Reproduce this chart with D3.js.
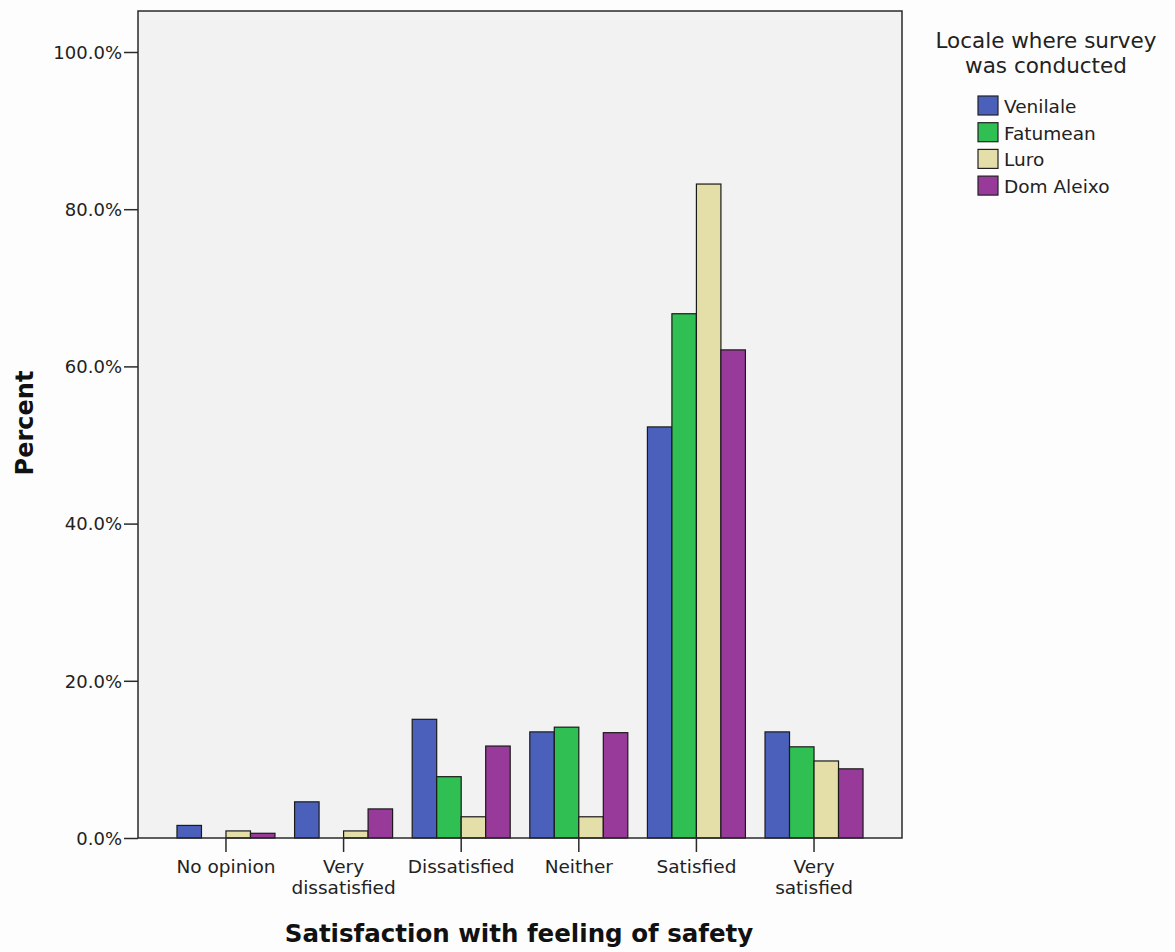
<!DOCTYPE html>
<html>
<head>
<meta charset="utf-8">
<script src="https://cdn.jsdelivr.net/npm/d3@7"></script>
<style>
  html, body { margin: 0; padding: 0; background: #fdfdfd; }
  svg { display: block; font-family: "DejaVu Sans", sans-serif; }
</style>
</head>
<body>
<svg id="chart" width="1175" height="952"></svg>
<script>
const categories = ["No opinion", "Very dissatisfied", "Dissatisfied", "Neither", "Satisfied", "Very satisfied"];
const categoryLines = [["No opinion"], ["Very", "dissatisfied"], ["Dissatisfied"], ["Neither"], ["Satisfied"], ["Very", "satisfied"]];
const series = ["Venilale", "Fatumean", "Luro", "Dom Aleixo"];
const venilale  = [1.6, 4.6, 15.1, 13.5, 52.3, 13.5];
const fatumean  = [0.0, 0.0, 7.8, 14.1, 66.7, 11.6];
const luro      = [0.9, 0.9, 2.7, 2.7, 83.2, 9.8];
const domAleixo = [0.6, 3.7, 11.7, 13.4, 62.1, 8.8];
const yTicks = [0, 20, 40, 60, 80, 100];
const colors = ["#4a60bb", "#30bf52", "#e4dea8", "#983a9a"];

const values = [venilale, fatumean, luro, domAleixo];
const svg = d3.select("#chart");
const plot = { left: 138, right: 902, top: 11, bottom: 838 };
const FONT = "'DejaVu Sans', sans-serif";

svg.append("rect").attr("x", 0).attr("y", 0).attr("width", 1175).attr("height", 952).attr("fill", "#fdfdfd");
svg.append("rect")
  .attr("x", plot.left).attr("y", plot.top)
  .attr("width", plot.right - plot.left).attr("height", plot.bottom - plot.top)
  .attr("fill", "#f2f2f2");

const x = d3.scaleBand().domain(categories).range([plot.left, plot.right]).paddingInner(0).paddingOuter(0.248);
const xs = d3.scaleBand().domain(series).range([0, x.bandwidth()]).paddingInner(0).paddingOuter(0.4);
const y = d3.scaleLinear().domain([0, 100]).range([plot.bottom, plot.bottom - 786]);

// bars
const barData = [];
categories.forEach((c, ci) => {
  series.forEach((s, si) => {
    barData.push({ c, s, si, v: values[si][ci] });
  });
});
svg.append("g").selectAll("rect").data(barData.filter(d => d.v > 0)).join("rect")
  .attr("x", d => x(d.c) + xs(d.s))
  .attr("y", d => y(d.v))
  .attr("width", xs.bandwidth())
  .attr("height", d => y(0) - y(d.v))
  .attr("fill", d => colors[d.si])
  .attr("stroke", "#1a1a1a")
  .attr("stroke-width", 1.2);

// frame
svg.append("rect")
  .attr("x", plot.left).attr("y", plot.top)
  .attr("width", plot.right - plot.left).attr("height", plot.bottom - plot.top)
  .attr("fill", "none").attr("stroke", "#2a2a2a").attr("stroke-width", 1.5);

// y axis
const yAxis = svg.append("g").attr("transform", `translate(${plot.left},0)`)
  .call(d3.axisLeft(y).tickValues(yTicks).tickSize(14).tickFormat(d => d.toFixed(1) + "%"));
yAxis.select(".domain").remove();
yAxis.selectAll(".tick line").attr("stroke", "#2a2a2a").attr("stroke-width", 1.5);
yAxis.selectAll(".tick text").attr("font-size", 18).attr("fill", "#222").attr("x", -16)
  .attr("font-family", FONT).attr("dy", "0.35em");

// x axis
const xAxis = svg.append("g").attr("transform", `translate(0,${plot.bottom})`)
  .call(d3.axisBottom(x).tickSize(14).tickFormat(""));
xAxis.select(".domain").remove();
xAxis.selectAll(".tick line").attr("stroke", "#2a2a2a").attr("stroke-width", 1.5);
xAxis.selectAll(".tick").each(function(d, i) {
  const t = d3.select(this).append("text")
    .attr("text-anchor", "middle").attr("fill", "#222").attr("font-size", 18.5)
    .attr("font-family", FONT);
  categoryLines[i].forEach((line, li) => {
    t.append("tspan").attr("x", 0).attr("y", 35 + li * 20.5).text(line);
  });
});

// axis titles
svg.append("text")
  .attr("transform", "translate(33,423) rotate(-90)")
  .attr("text-anchor", "middle").attr("font-size", 24).attr("font-weight", "bold").attr("fill", "#111")
  .attr("font-family", FONT)
  .text("Percent");
svg.append("text")
  .attr("x", 519).attr("y", 942)
  .attr("text-anchor", "middle").attr("font-size", 24.5).attr("font-weight", "bold").attr("fill", "#111")
  .attr("font-family", FONT)
  .text("Satisfaction with feeling of safety");

// legend
const lg = svg.append("g").attr("font-family", FONT);
lg.append("text").attr("x", 1046).attr("y", 48).attr("text-anchor", "middle")
  .attr("font-size", 21.5).attr("fill", "#222").text("Locale where survey");
lg.append("text").attr("x", 1046).attr("y", 73).attr("text-anchor", "middle")
  .attr("font-size", 21.5).attr("fill", "#222").text("was conducted");
const items = lg.selectAll("g.item").data(series).join("g").attr("class", "item")
  .attr("transform", (d, i) => `translate(978,${113 + i * 26.7})`);
items.append("rect").attr("y", -17).attr("width", 20).attr("height", 19)
  .attr("fill", (d, i) => colors[i]).attr("stroke", "#222").attr("stroke-width", 1.2);
items.append("text").attr("x", 26).attr("y", 0).attr("font-size", 18.5).attr("fill", "#222").text(d => d);
</script>
</body>
</html>
